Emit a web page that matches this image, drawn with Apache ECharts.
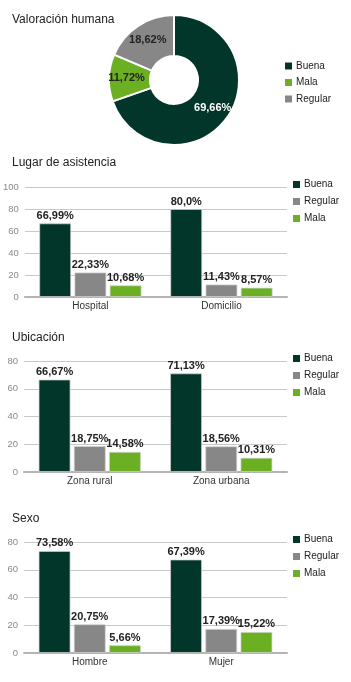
<!DOCTYPE html>
<html>
<head>
<meta charset="utf-8">
<script src="https://cdn.jsdelivr.net/npm/echarts@6/dist/echarts.min.js"></script>
<style>
  html, body { margin: 0; padding: 0; background: #fff; }
  #chart { width: 351px; height: 682px; }
</style>
</head>
<body>
<div id="chart"></div>
<script>
const pieNames = ['Buena', 'Mala', 'Regular']
const pieValues = [69.66, 11.72, 18.62]

const seriesNames = ['Buena', 'Regular', 'Mala']

const lugarCats = ['Hospital', 'Domicilio']
const lugarBuena = [66.99, 80.0]
const lugarRegular = [22.33, 11.43]
const lugarMala = [10.68, 8.57]

const ubicCats = ['Zona rural', 'Zona urbana']
const ubicBuena = [66.67, 71.13]
const ubicRegular = [18.75, 18.56]
const ubicMala = [14.58, 10.31]

const sexoCats = ['Hombre', 'Mujer']
const sexoBuena = [73.58, 67.39]
const sexoRegular = [20.75, 17.39]
const sexoMala = [5.66, 15.22]

const colors = { Buena: '#02362a', Regular: '#878787', Mala: '#6bb023' }
const FONT = 'Liberation Sans'

function pct(v) {
  let s = String(v)
  if (s.indexOf('.') < 0) s += '.0'
  return s.replace('.', ',') + '%'
}

const groups = [
  { title: 'Lugar de asistencia', titleTop: 156, top: 187, height: 110, max: 100, cats: lugarCats, vals: [lugarBuena, lugarRegular, lugarMala] },
  { title: 'Ubicación', titleTop: 331, top: 361, height: 111, max: 80, cats: ubicCats, vals: [ubicBuena, ubicRegular, ubicMala] },
  { title: 'Sexo', titleTop: 512, top: 542, height: 111, max: 80, cats: sexoCats, vals: [sexoBuena, sexoRegular, sexoMala] }
]

const titles = [{ text: 'Valoración humana', left: 12, top: 13 }]
const legends = [{
  data: pieNames, left: 285, top: 61, orient: 'vertical', itemGap: 6.5
}]
const grids = [], xAxes = [], yAxes = [], series = []

series.push({
  type: 'pie',
  center: [174, 80],
  radius: [24, 65],
  startAngle: 90,
  itemStyle: { borderColor: '#fff', borderWidth: 2 },
  label: {
    position: 'inside',
    formatter: p => pct(p.value),
    fontFamily: FONT, fontWeight: 'bold', fontSize: 11
  },
  labelLine: { show: false },
  emphasis: { scale: false },
  data: pieNames.map((n, i) => ({
    name: n,
    value: pieValues[i],
    itemStyle: { color: colors[n] },
    label: { color: n === 'Buena' ? '#fff' : '#222' }
  }))
})

groups.forEach((g, gi) => {
  titles.push({ text: g.title, left: 12, top: g.titleTop })
  legends.push({ data: seriesNames, left: 293, top: g.top - 7.5, orient: 'vertical', itemGap: 7 })
  grids.push({ left: 24, right: 64, top: g.top, height: g.height })
  xAxes.push({
    gridIndex: gi,
    type: 'category',
    data: g.cats,
    axisTick: { show: false },
    axisLine: { lineStyle: { color: '#b4b4b4', width: 2 } },
    axisLabel: { color: '#333', fontSize: 10, fontFamily: FONT, margin: 4 }
  })
  yAxes.push({
    gridIndex: gi,
    type: 'value',
    min: 0,
    max: g.max,
    interval: 20,
    axisLabel: { color: '#8a8a8a', fontSize: 9.5, fontFamily: FONT, margin: 6 },
    splitLine: { lineStyle: { color: '#c8c8c8' } }
  })
  seriesNames.forEach((n, si) => {
    series.push({
      name: n,
      type: 'bar',
      xAxisIndex: gi,
      yAxisIndex: gi,
      barWidth: 32,
      barGap: '10%',
      data: g.vals[si],
      itemStyle: { color: colors[n], borderColor: 'rgba(210,210,210,0.7)', borderWidth: 1 },
      label: {
        show: true,
        position: 'top',
        distance: 2,
        formatter: p => pct(p.value),
        color: '#222',
        fontFamily: FONT,
        fontWeight: 'bold',
        fontSize: 11
      }
    })
  })
})

legends.forEach(l => {
  l.icon = 'rect'
  l.itemWidth = 7
  l.itemHeight = 7
  l.padding = 0
  l.selectedMode = false
  l.itemStyle = { borderWidth: 0 }
  l.textStyle = { color: '#222', fontSize: 10, fontFamily: FONT, padding: [0, 0, 0, -1] }
})
titles.forEach(t => {
  t.padding = 0
  t.top += 1
  t.textStyle = { color: '#222', fontSize: 12, fontWeight: 'normal', fontFamily: FONT }
})

const chart = echarts.init(document.getElementById('chart'))
chart.setOption({
  animation: false,
  title: titles,
  legend: legends,
  grid: grids,
  xAxis: xAxes,
  yAxis: yAxes,
  series: series
})
</script>
</body>
</html>
